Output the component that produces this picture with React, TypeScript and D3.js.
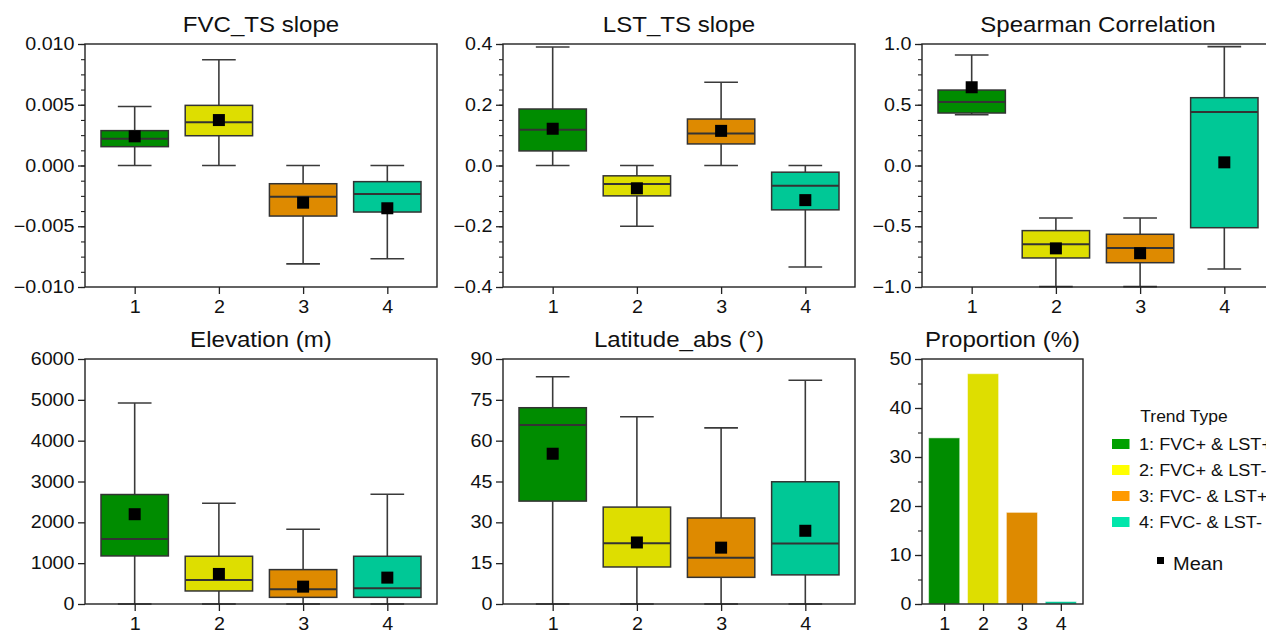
import { useEffect, useRef } from 'react';
import * as d3 from 'd3';

// trend types
const categories = [1, 2, 3, 4];
const boxColors = ['#008c00', '#dede00', '#de8a00', '#00c896'];
const legendColors = ['#00a100', '#ffff00', '#ff9a00', '#00e6ab'];
const legendLabels = ['1: FVC+ & LST+', '2: FVC+ & LST-', '3: FVC- & LST+', '4: FVC- & LST-'];

// each row: [lower whisker, Q1, median, Q3, upper whisker, mean]
const fvcSlope = [
    [0.0, 0.00155, 0.0022, 0.00287, 0.00485, 0.0024],
    [0.0, 0.00245, 0.00356, 0.00495, 0.0087, 0.00374],
    [-0.0081, -0.00416, -0.00257, -0.0015, 0.0, -0.00306],
    [-0.00767, -0.00383, -0.00235, -0.00133, 0.0, -0.00352],
];
const lstSlope = [
    [0.0, 0.048, 0.118, 0.186, 0.39, 0.121],
    [-0.2, -0.1, -0.061, -0.034, 0.0, -0.075],
    [0.0, 0.071, 0.105, 0.153, 0.274, 0.114],
    [-0.334, -0.146, -0.067, -0.022, 0.0, -0.114],
];
const spearman = [
    [0.418, 0.432, 0.523, 0.621, 0.909, 0.644],
    [-0.997, -0.761, -0.648, -0.536, -0.432, -0.682],
    [-0.997, -0.8, -0.679, -0.566, -0.432, -0.722],
    [-0.852, -0.512, 0.44, 0.558, 0.978, 0.026],
];
const elevation = [
    [0, 1177, 1594, 2681, 4921, 2199],
    [0, 319, 589, 1169, 2469, 736],
    [0, 163, 360, 842, 1831, 425],
    [0, 163, 384, 1169, 2689, 646],
];
const latitude = [
    [0, 37.8, 65.8, 72.1, 83.5, 55.2],
    [0, 13.6, 22.3, 35.6, 68.8, 22.6],
    [0, 9.8, 17.0, 31.6, 64.7, 20.7],
    [0, 10.7, 22.2, 44.9, 82.2, 26.9],
];
const proportion = [33.9, 47.0, 18.7, 0.5];

// y tick values
const fvcTicks = [-0.01, -0.005, 0, 0.005, 0.01];
const lstTicks = [-0.4, -0.2, 0, 0.2, 0.4];
const spearTicks = [-1, -0.5, 0, 0.5, 1];
const elevTicks = [0, 1000, 2000, 3000, 4000, 5000, 6000];
const latTicks = [0, 15, 30, 45, 60, 75, 90];
const propTicks = [0, 10, 20, 30, 40, 50];

const FONT = "'Liberation Sans', Arial, sans-serif";
const SX = 1.12; // text looks horizontally stretched in the original

const W = 1266;
const H = 633;

const stretch = (sel: any) => {
    sel.each(function (this: any) {
        const t = d3.select(this);
        const x = +t.attr('x') || 0;
        const y = +t.attr('y') || 0;
        t.attr('x', 0).attr('y', 0).attr('transform', `translate(${x},${y}) scale(${SX},1)`);
    });
};

const App = () => {
    const svgRef = useRef<SVGSVGElement | null>(null);

    useEffect(() => {
        const svg = d3.select(svgRef.current);
        svg.selectAll('*').remove();

        const panels = [
            { title: 'FVC_TS slope', data: fvcSlope, ticks: fvcTicks, minor: 0.00125, fmt: d3.format('.3f'), left: 85, top: 44, bottom: 287 },
            { title: 'LST_TS slope', data: lstSlope, ticks: lstTicks, minor: 0.05, fmt: d3.format('.1f'), left: 503, top: 44, bottom: 287 },
            { title: 'Spearman Correlation', data: spearman, ticks: spearTicks, minor: 0.125, fmt: d3.format('.1f'), left: 922, top: 44, bottom: 287 },
            { title: 'Elevation (m)', data: elevation, ticks: elevTicks, minor: 0, fmt: d3.format('d'), left: 85, top: 359, bottom: 604 },
            { title: 'Latitude_abs (°)', data: latitude, ticks: latTicks, minor: 0, fmt: d3.format('d'), left: 503, top: 359, bottom: 604 },
        ];
        const panelW = 352;

        const drawAxes = (g: any, x: any, y: any, ticks: number[], minor: number, fmt: any, w: number, h: number, title: string) => {
            if (minor > 0) {
                const [d0, d1] = y.domain();
                const mins = d3.range(Math.round((d1 - d0) / minor) + 1).map(i => d0 + i * minor);
                g.append('g')
                    .call(d3.axisLeft(y).tickValues(mins).tickSize(4).tickFormat(() => ''))
                    .call((a: any) => a.select('.domain').remove())
                    .selectAll('line').attr('stroke', '#222').attr('stroke-width', 1.1);
            }
            const ya = g.append('g')
                .call(d3.axisLeft(y).tickValues(ticks).tickSize(7).tickPadding(3.5).tickFormat(fmt));
            ya.select('.domain').remove();
            ya.selectAll('line').attr('stroke', '#222').attr('stroke-width', 1.3);
            ya.selectAll('text').attr('font-family', FONT).attr('font-size', 17.6).attr('fill', '#111').call(stretch);

            const xa = g.append('g').attr('transform', `translate(0,${h})`)
                .call(d3.axisBottom(x).tickValues(categories).tickSize(7).tickPadding(6.5).tickFormat(d3.format('d')));
            xa.select('.domain').remove();
            xa.selectAll('line').attr('stroke', '#222').attr('stroke-width', 1.3);
            xa.selectAll('text').attr('font-family', FONT).attr('font-size', 17.6).attr('fill', '#111').call(stretch);

            g.append('rect')
                .attr('width', w).attr('height', h)
                .attr('fill', 'none').attr('stroke', '#222').attr('stroke-width', 1.4);

            g.append('text')
                .attr('transform', `translate(${w / 2},-12) scale(${SX},1)`)
                .attr('text-anchor', 'middle')
                .attr('font-family', FONT).attr('font-size', 21.5).attr('fill', '#111')
                .text(title);
        };

        panels.forEach(p => {
            const h = p.bottom - p.top;
            const g = svg.append('g').attr('transform', `translate(${p.left},${p.top})`);
            const x = d3.scaleLinear().domain([0.41, 4.59]).range([0, panelW]);
            const y = d3.scaleLinear().domain([p.ticks[0], p.ticks[p.ticks.length - 1]]).range([h, 0]);
            const bw = x(1.4) - x(1);
            const cw = x(1.2) - x(1);

            const plot = g.append('g');
            p.data.forEach((s, i) => {
                const [lo, q1, med, q3, hi, mean] = s;
                const cx = x(categories[i]);
                const bx = plot.append('g');
                bx.append('line').attr('x1', cx).attr('x2', cx).attr('y1', y(lo)).attr('y2', y(q1))
                    .attr('stroke', '#3a3a3a').attr('stroke-width', 1.6);
                bx.append('line').attr('x1', cx).attr('x2', cx).attr('y1', y(q3)).attr('y2', y(hi))
                    .attr('stroke', '#3a3a3a').attr('stroke-width', 1.6);
                [lo, hi].forEach(v => {
                    bx.append('line').attr('x1', cx - cw).attr('x2', cx + cw).attr('y1', y(v)).attr('y2', y(v))
                        .attr('stroke', '#3a3a3a').attr('stroke-width', 1.6);
                });
                bx.append('rect')
                    .attr('x', cx - bw).attr('width', 2 * bw)
                    .attr('y', y(q3)).attr('height', y(q1) - y(q3))
                    .attr('fill', boxColors[i]).attr('stroke', '#333').attr('stroke-width', 1.5);
                bx.append('line').attr('x1', cx - bw).attr('x2', cx + bw).attr('y1', y(med)).attr('y2', y(med))
                    .attr('stroke', '#333').attr('stroke-width', 2);
                bx.append('rect')
                    .attr('x', cx - 6).attr('y', y(mean) - 6).attr('width', 12).attr('height', 12)
                    .attr('fill', '#000');
            });

            drawAxes(g, x, y, p.ticks, p.minor, p.fmt, panelW, h, p.title);
        });

        // Proportion bar panel
        {
            const left = 922, top = 359, bottom = 604, w = 161;
            const h = bottom - top;
            const g = svg.append('g').attr('transform', `translate(${left},${top})`);
            const x = d3.scaleLinear().domain([0.43, 4.57]).range([0, w]);
            const y = d3.scaleLinear().domain([0, 50]).range([h, 0]);
            const bw = x(1.4) - x(1);
            g.selectAll('rect.bar').data(proportion).join('rect')
                .attr('class', 'bar')
                .attr('x', (_d, i) => x(categories[i]) - bw)
                .attr('width', 2 * bw)
                .attr('y', d => y(d))
                .attr('height', d => h - y(d))
                .attr('fill', (_d, i) => boxColors[i])
                .attr('stroke', '#ffffff').attr('stroke-opacity', 0.5).attr('stroke-width', 1);
            drawAxes(g, x, y, propTicks, 5, d3.format('d'), w, h, 'Proportion (%)');
        }

        // Legend
        const lg = svg.append('g');
        lg.append('text')
            .attr('transform', `translate(1184,422) scale(${SX},1)`)
            .attr('text-anchor', 'middle')
            .attr('font-family', FONT).attr('font-size', 15.6).attr('fill', '#111')
            .text('Trend Type');
        legendLabels.forEach((lab, i) => {
            const cy = 444 + i * 26;
            lg.append('rect').attr('x', 1112).attr('y', cy - 5).attr('width', 17.5).attr('height', 10)
                .attr('fill', legendColors[i]);
            lg.append('text')
                .attr('transform', `translate(1139,${cy + 6}) scale(${SX},1)`)
                .attr('font-family', FONT).attr('font-size', 16.2).attr('fill', '#111')
                .text(lab);
        });
        lg.append('rect').attr('x', 1157).attr('y', 557).attr('width', 7).attr('height', 7).attr('fill', '#000');
        lg.append('text')
            .attr('transform', `translate(1173,570) scale(${SX},1)`)
            .attr('font-family', FONT).attr('font-size', 17.9).attr('fill', '#111')
            .text('Mean');
    }, []);

    return (
        <svg ref={svgRef} width={W} height={H}
            style={{ position: 'absolute', left: 0, top: 0, background: '#fff', display: 'block' }} />
    );
};

export default App;
